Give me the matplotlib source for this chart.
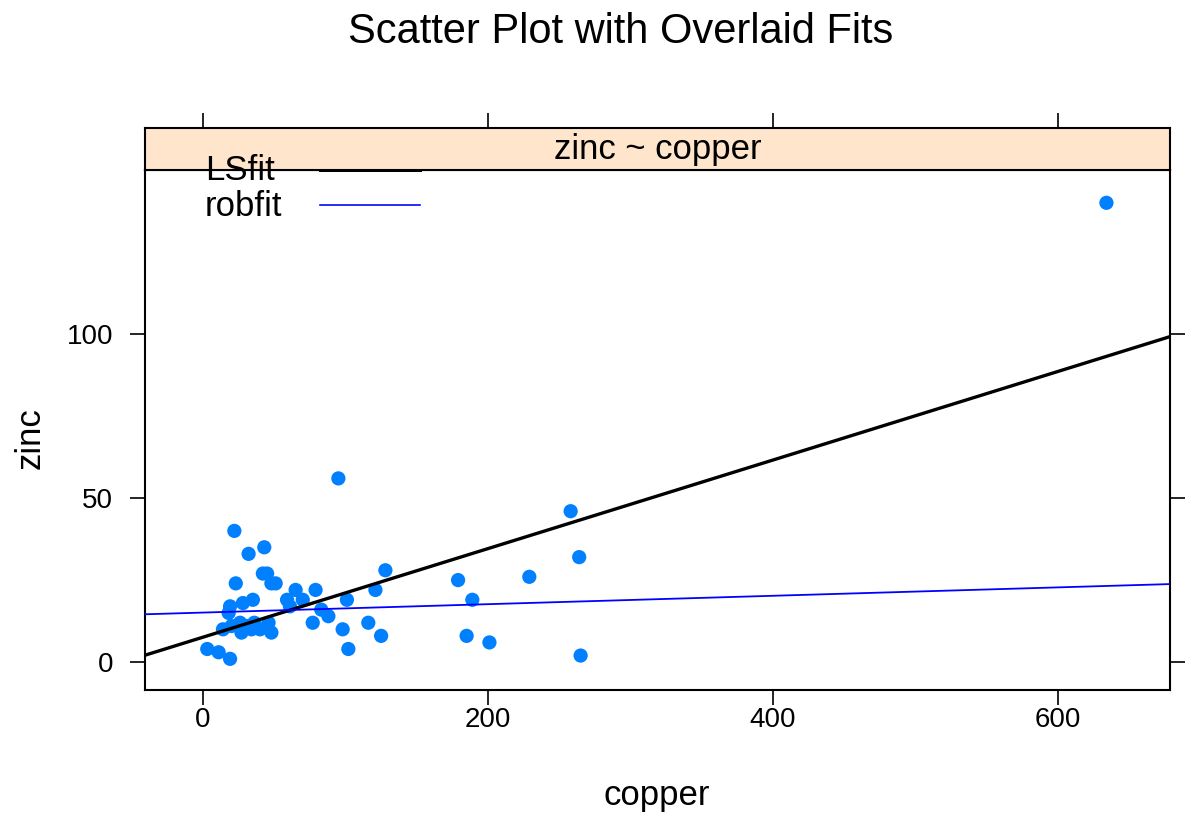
import numpy as np
import matplotlib.pyplot as plt
from matplotlib.lines import Line2D

plt.rcParams['font.family'] = ['Liberation Sans', 'DejaVu Sans']

# data (copper, zinc)
copper = [3, 11, 19, 14, 20, 18, 19, 23, 22, 26, 27, 28, 32, 35, 36, 40, 31, 34,
          43, 42, 45, 46, 48, 48, 51, 59, 61, 65, 70, 77, 79, 83, 88, 95, 98,
          101, 102, 116, 121, 125, 128, 179, 185, 189, 201, 229, 258, 264, 265, 634]
zinc = [4, 3, 1, 10, 11, 15, 17, 24, 40, 12, 9, 18, 33, 19, 12, 10, 11, 10,
        35, 27, 27, 12, 9, 24, 24, 19, 17, 22, 19, 12, 22, 16, 14, 56, 10,
        19, 4, 12, 22, 8, 28, 25, 8, 19, 6, 26, 46, 32, 2, 140]

# fitted lines (intercept, slope) as drawn in the reference
fits = {'LSfit': (7.6, 0.135), 'robfit': (15.1, 0.0128)}
fit_colors = {'LSfit': 'black', 'robfit': 'blue'}
fit_widths = {'LSfit': 2.4, 'robfit': 1.3}

xlim = (-40.7, 678.6)
ylim = (-8.5, 150)
xticks = [0, 200, 400, 600]
yticks = [0, 50, 100]

W, H = 1186, 817
fig = plt.figure(figsize=(W / 100, H / 100), dpi=100)

def box(l, t, r, b):
    return [l / W, 1 - b / H, (r - l) / W, (b - t) / H]

ax = fig.add_axes(box(145, 170, 1170, 690))
strip = fig.add_axes(box(145, 128, 1170, 170))

# panel
ax.scatter(copper, zinc, s=105, color='#0080ff', edgecolors='none', zorder=3)
xs = np.array(xlim)
for name, (b0, b1) in fits.items():
    ax.plot(xs, b0 + b1 * xs, color=fit_colors[name], lw=fit_widths[name], zorder=4)

ax.set_xlim(xlim)
ax.set_ylim(ylim)
ax.set_xticks(xticks)
ax.set_yticks(yticks)
ax.tick_params(axis='x', direction='out', length=11, width=1.2, pad=1,
               labelsize=20, bottom=True, top=False)
ax.tick_params(axis='y', direction='out', length=11, width=1.2, pad=12,
               labelsize=20, left=True, right=True, labelright=False)
for sp in ax.spines.values():
    sp.set_linewidth(1.5)

# strip
strip.set_facecolor('#ffe5cc')
strip.set_xlim(xlim)
strip.set_ylim(0, 1)
strip.set_xticks(xticks)
strip.set_yticks([])
strip.tick_params(axis='x', direction='out', length=11, width=1.2,
                  bottom=False, top=True, labelbottom=False, labeltop=False)
for sp in strip.spines.values():
    sp.set_linewidth(1.5)
strip.text(0.5, 0.5, 'zinc ~ copper', transform=strip.transAxes,
           ha='center', va='center', fontsize=25)

# legend drawn lattice-style: text left, line key right
for i, name in enumerate(fits):
    yc = 1 - (171 + 35 * i) / H
    fig.text(205 / W, yc, name, ha='left', va='center', fontsize=25, zorder=10)
    fig.add_artist(Line2D([320 / W, 420 / W], [yc + 1.5 / H, yc + 1.5 / H],
                          color=fit_colors[name], lw=fit_widths[name] * 0.9,
                          zorder=10))

fig.text(621 / W, 1 - 32 / H, 'Scatter Plot with Overlaid Fits',
         ha='center', va='center', fontsize=30)
fig.text(657 / W, 1 - 795 / H, 'copper', ha='center', va='center', fontsize=25)
fig.text(30 / W, 1 - 438 / H, 'zinc', ha='center', va='center', fontsize=25,
         rotation=90)

fig.savefig('out.png', dpi=100)
